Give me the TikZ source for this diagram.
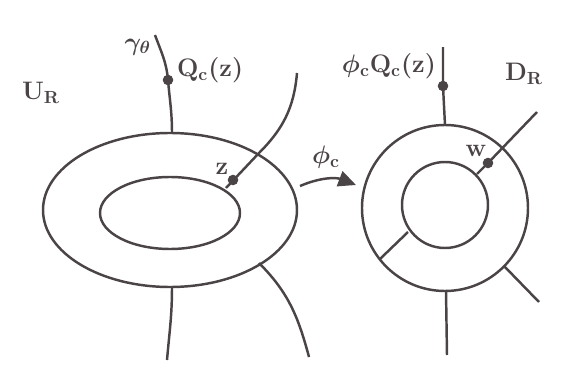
\documentclass[tikz,border=0pt]{standalone}
\usepackage{tikz}
\usetikzlibrary{arrows.meta}
\definecolor{inkgray}{RGB}{75,68,70}

\tikzset{
    curveline/.style={draw=inkgray, line width=1.4pt},
    ptdot/.style={circle, fill=inkgray, inner sep=0pt, minimum size=6pt},
    lbl/.style={text=inkgray, font=\Large\boldmath, inner sep=1pt}
}

\begin{document}
\begin{tikzpicture}[x=0.02cm, y=-0.02cm]

\useasboundingbox (0,0) rectangle (576,382);

% left picture: U_R
\draw[curveline] (170,210) ellipse (127 and 77);
\draw[curveline] (170,213) ellipse (70 and 36);

\coordinate (gtop) at (155,35);
\coordinate (gfoot) at (172,133);
\node[ptdot] (qdot) at (168,80) {};
\draw[curveline] (gtop) to[out=-70,in=95] (qdot.center) to[out=-85,in=90] (gfoot);

\coordinate (rtop) at (297,73);
\coordinate (rcross) at (259,153);
\coordinate (rfoot) at (226,188);
\node[ptdot] (zdot) at (233,180) {};
\draw[curveline] (rtop) to[out=-95,in=45] (rcross) -- (rfoot);

\coordinate (btop) at (172,287);
\coordinate (bend) at (167,360);
\draw[curveline] (btop) to[out=-90,in=85] (bend);

\coordinate (brtop) at (259,263);
\coordinate (brend) at (309,357);
\draw[curveline] (brtop) to[out=-45,in=105] (brend);

\node[lbl] (ur) at (41,93) {$\mathrm{U_R}$};
\node[lbl, anchor=east] (gam) at (153,47) {$\gamma_\theta$};
\node[lbl, anchor=west] (qc) at (175,70) {$\mathrm{Q_c(z)}$};
\node[lbl] (zl) at (222,169) {$\mathrm{z}$};

% the map
\coordinate (mapfrom) at (300,186);
\coordinate (mapto) at (356,185);
\draw[curveline, -{Triangle[length=10pt,width=9pt]}] (mapfrom) to[bend left=22] (mapto);
\node[lbl] (phic) at (326,157) {$\phi_\mathrm{c}$};

% right picture: D_R
\draw[curveline] (445,208) circle (83);
\draw[curveline] (445,205) circle (43);

\coordinate (dtop) at (443,47);
\coordinate (dfoot) at (445,125);
\node[ptdot] (pdot) at (443,86) {};
\draw[curveline] (dtop) -- (pdot.center) -- (dfoot);

\coordinate (wtop) at (537,112);
\coordinate (wfoot) at (477,174);
\node[ptdot] (wdot) at (488,163) {};
\draw[curveline] (wtop) -- (wdot.center) -- (wfoot);

\coordinate (sla) at (408,232);
\coordinate (slb) at (380,259);
\draw[curveline] (sla) -- (slb);

\coordinate (sra) at (504,266);
\coordinate (srb) at (539,302);
\draw[curveline] (sra) -- (srb);

\coordinate (dbtop) at (446,290);
\coordinate (dbend) at (447,355);
\draw[curveline] (dbtop) -- (dbend);

\node[lbl, anchor=east] (pq) at (438,66) {$\phi_\mathrm{c}\mathrm{Q_c(z)}$};
\node[lbl] (dr) at (524,74) {$\mathrm{D_R}$};
\node[lbl] (wl) at (476,151) {$\mathrm{w}$};

\end{tikzpicture}
\end{document}
